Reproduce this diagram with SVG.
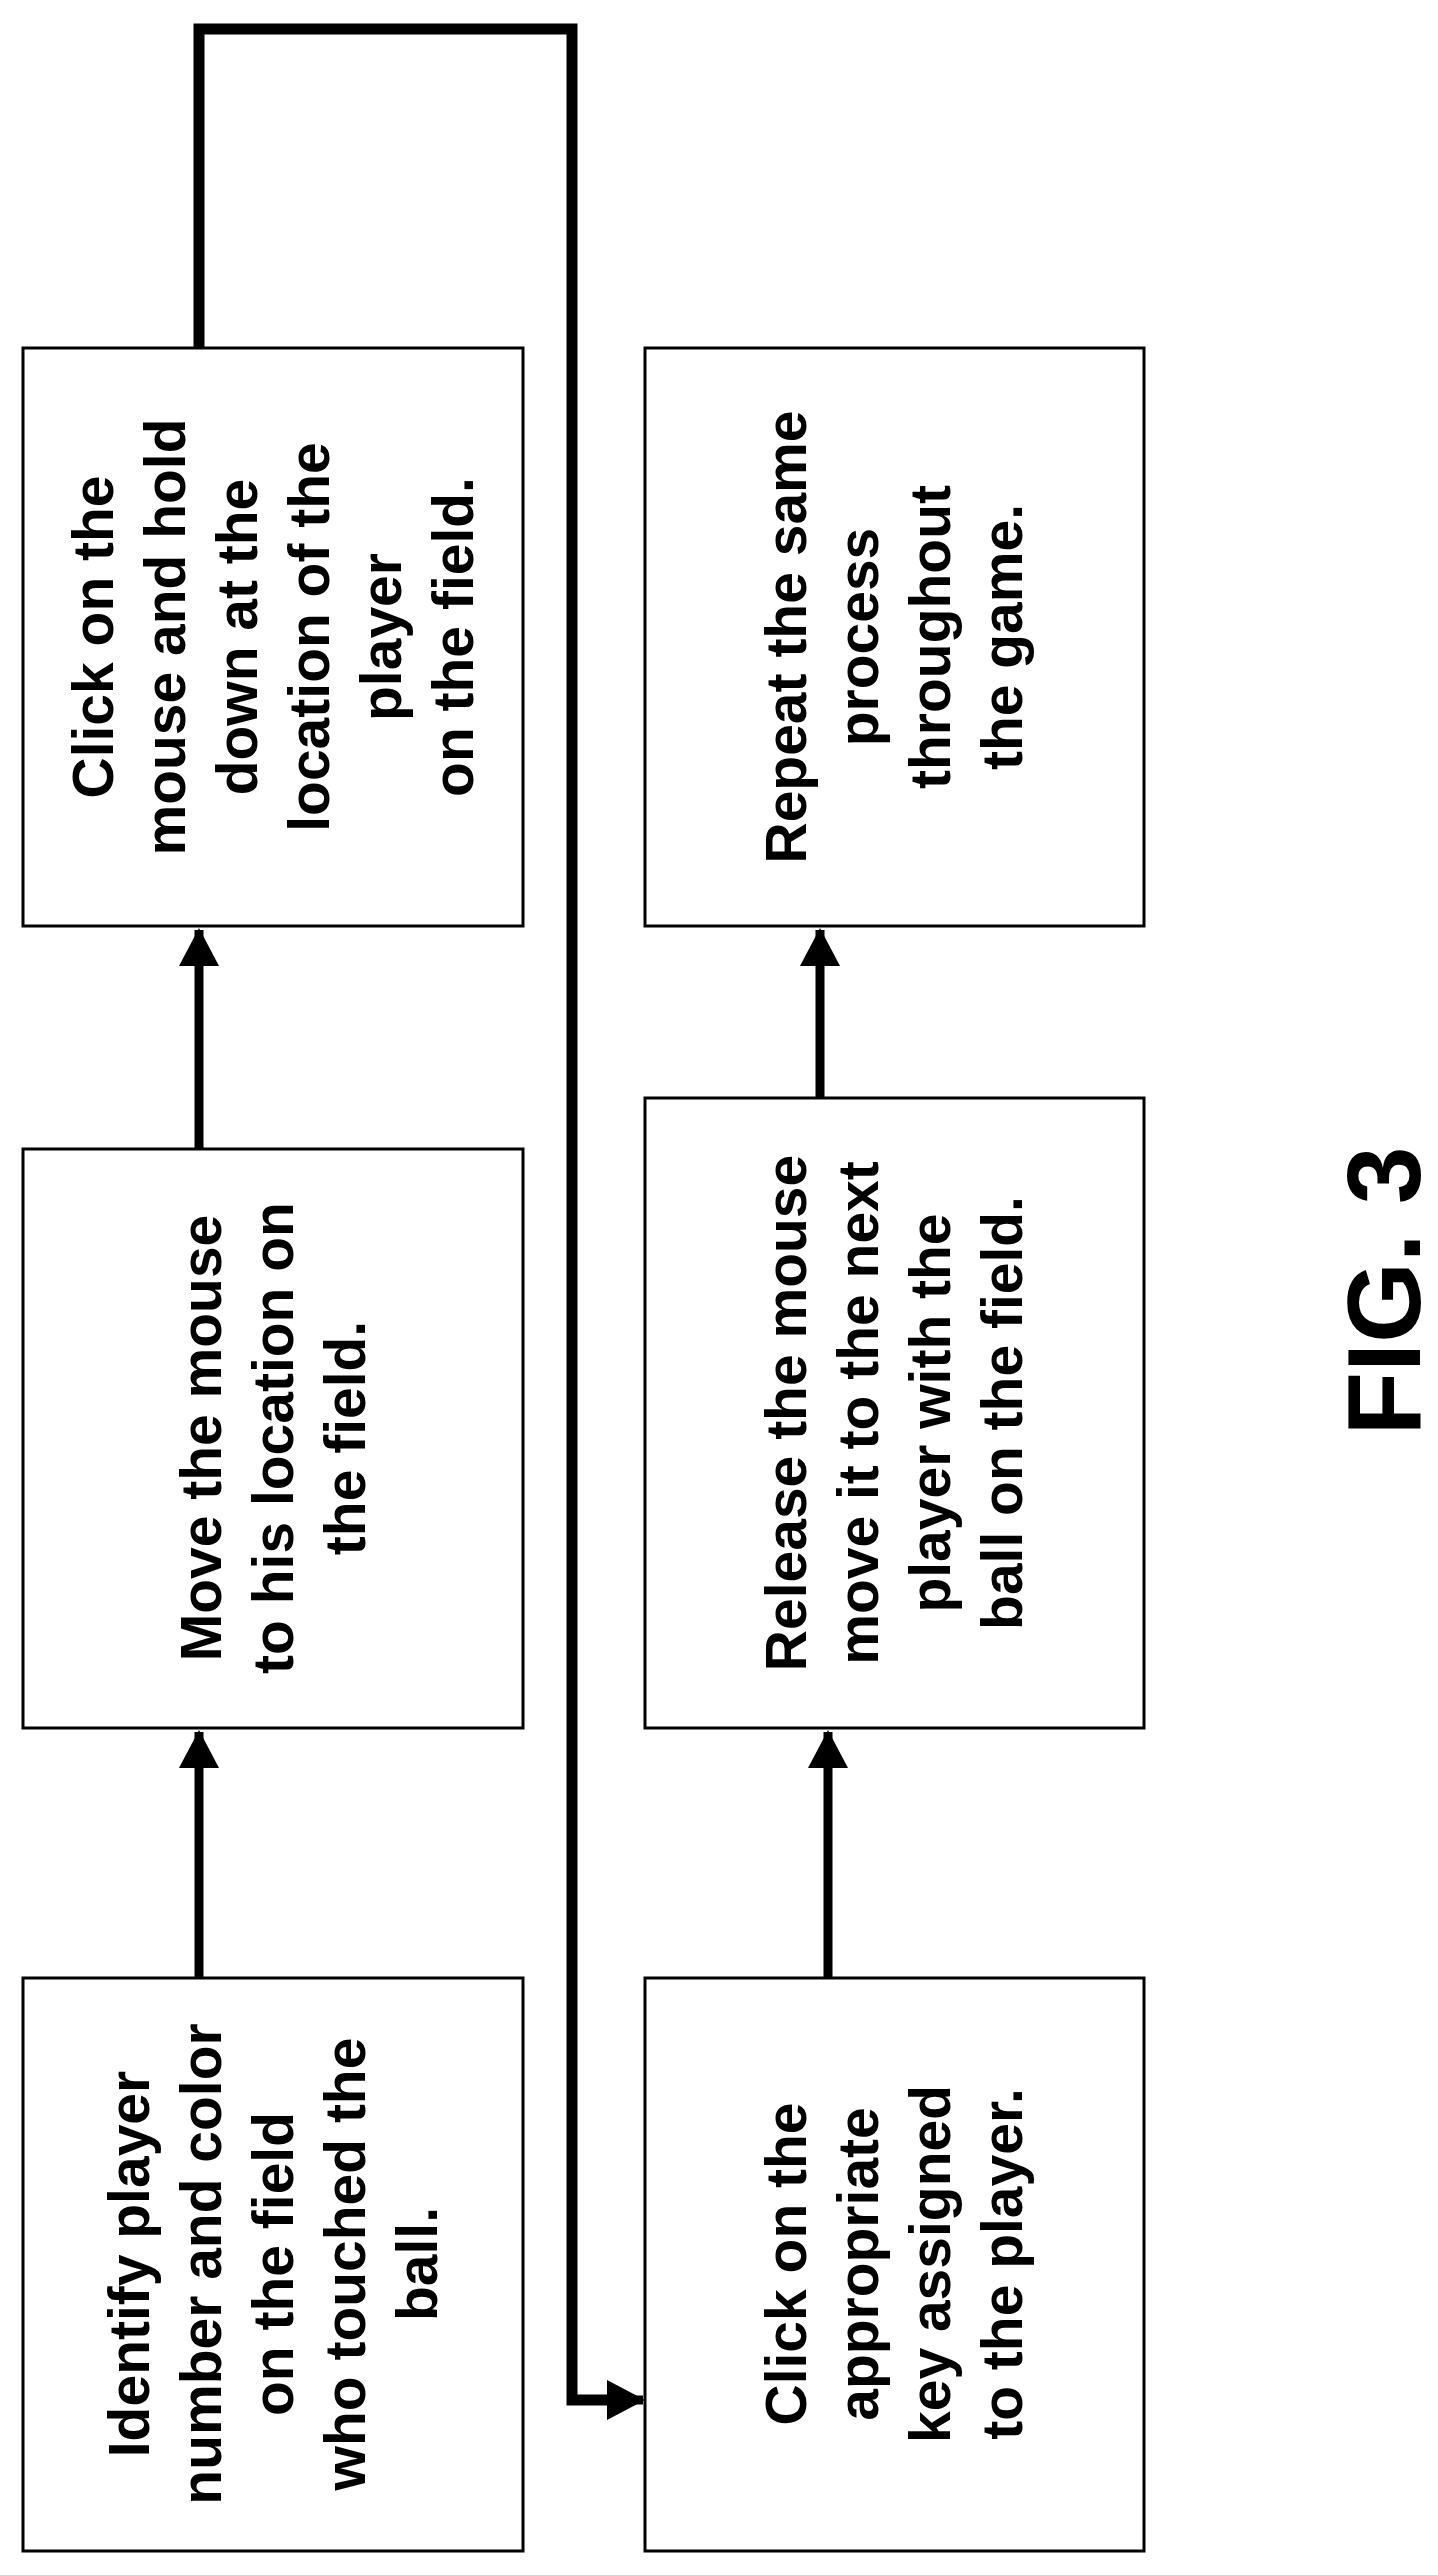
<svg xmlns="http://www.w3.org/2000/svg" width="1438" height="2575" viewBox="0 0 1438 2575">
<style>
.box{fill:#fff;stroke:#000;stroke-width:3}
.t{font-family:"Liberation Sans",Arial,sans-serif;font-weight:bold;font-size:57px;text-anchor:middle;fill:#000}
.c{fill:none;stroke:#000;stroke-width:9}
.loop{fill:none;stroke:#000;stroke-width:11}
</style>
<defs>
<marker id="ah" markerUnits="userSpaceOnUse" markerWidth="40" markerHeight="40" refX="36" refY="20" orient="auto"><path d="M0,0 L38,20 L0,40 Z" fill="#000"/></marker>
</defs>
<rect width="1438" height="2575" fill="#fff"/>
<g id="connectors">
<line class="c" x1="199" y1="1978" x2="199" y2="1732" marker-end="url(#ah)"/>
<line class="c" x1="199" y1="1149" x2="199" y2="930" marker-end="url(#ah)"/>
<line class="c" x1="828" y1="1978" x2="828" y2="1732" marker-end="url(#ah)"/>
<line class="c" x1="820" y1="1098" x2="820" y2="930" marker-end="url(#ah)"/>
<polyline class="loop" points="199,348 199,29 572,29 572,2400 612,2400"/>
<line class="c" x1="605" y1="2400" x2="643" y2="2400" marker-end="url(#ah)"/>
</g>
<g id="nodeA">
<rect class="box" x="23" y="1978" width="500" height="573"/>
<text class="t" transform="translate(273,2264) rotate(-90)"><tspan x="0" y="-124">Identify player</tspan><tspan x="0" y="-52">number and color</tspan><tspan x="0" y="20">on the field</tspan><tspan x="0" y="92">who touched the</tspan><tspan x="0" y="164">ball.</tspan></text>
</g>
<g id="nodeB">
<rect class="box" x="23" y="1149" width="500" height="579"/>
<text class="t" transform="translate(273,1438) rotate(-90)"><tspan x="0" y="-52">Move the mouse</tspan><tspan x="0" y="20">to his location on</tspan><tspan x="0" y="92">the field.</tspan></text>
</g>
<g id="nodeC">
<rect class="box" x="23" y="348" width="500" height="578"/>
<text class="t" transform="translate(273,637) rotate(-90)"><tspan x="0" y="-160">Click on the</tspan><tspan x="0" y="-88">mouse and hold</tspan><tspan x="0" y="-16">down at the</tspan><tspan x="0" y="56">location of the</tspan><tspan x="0" y="128">player</tspan><tspan x="0" y="200">on the field.</tspan></text>
</g>
<g id="nodeD">
<rect class="box" x="645" y="1978" width="499" height="573"/>
<text class="t" transform="translate(894,2264) rotate(-90)"><tspan x="0" y="-88">Click on the</tspan><tspan x="0" y="-16">appropriate</tspan><tspan x="0" y="56">key assigned</tspan><tspan x="0" y="128">to the player.</tspan></text>
</g>
<g id="nodeE">
<rect class="box" x="645" y="1098" width="499" height="630"/>
<text class="t" transform="translate(894,1413) rotate(-90)"><tspan x="0" y="-88">Release the mouse</tspan><tspan x="0" y="-16">move it to the next</tspan><tspan x="0" y="56">player with the</tspan><tspan x="0" y="128">ball on the field.</tspan></text>
</g>
<g id="nodeF">
<rect class="box" x="645" y="348" width="499" height="578"/>
<text class="t" transform="translate(894,637) rotate(-90)"><tspan x="0" y="-88">Repeat the same</tspan><tspan x="0" y="-16">process</tspan><tspan x="0" y="56">throughout</tspan><tspan x="0" y="128">the game.</tspan></text>
</g>
<g id="caption">
<text class="t" style="font-size:104px" transform="translate(1420,1291) rotate(-90)">FIG. 3</text>
</g>
</svg>
